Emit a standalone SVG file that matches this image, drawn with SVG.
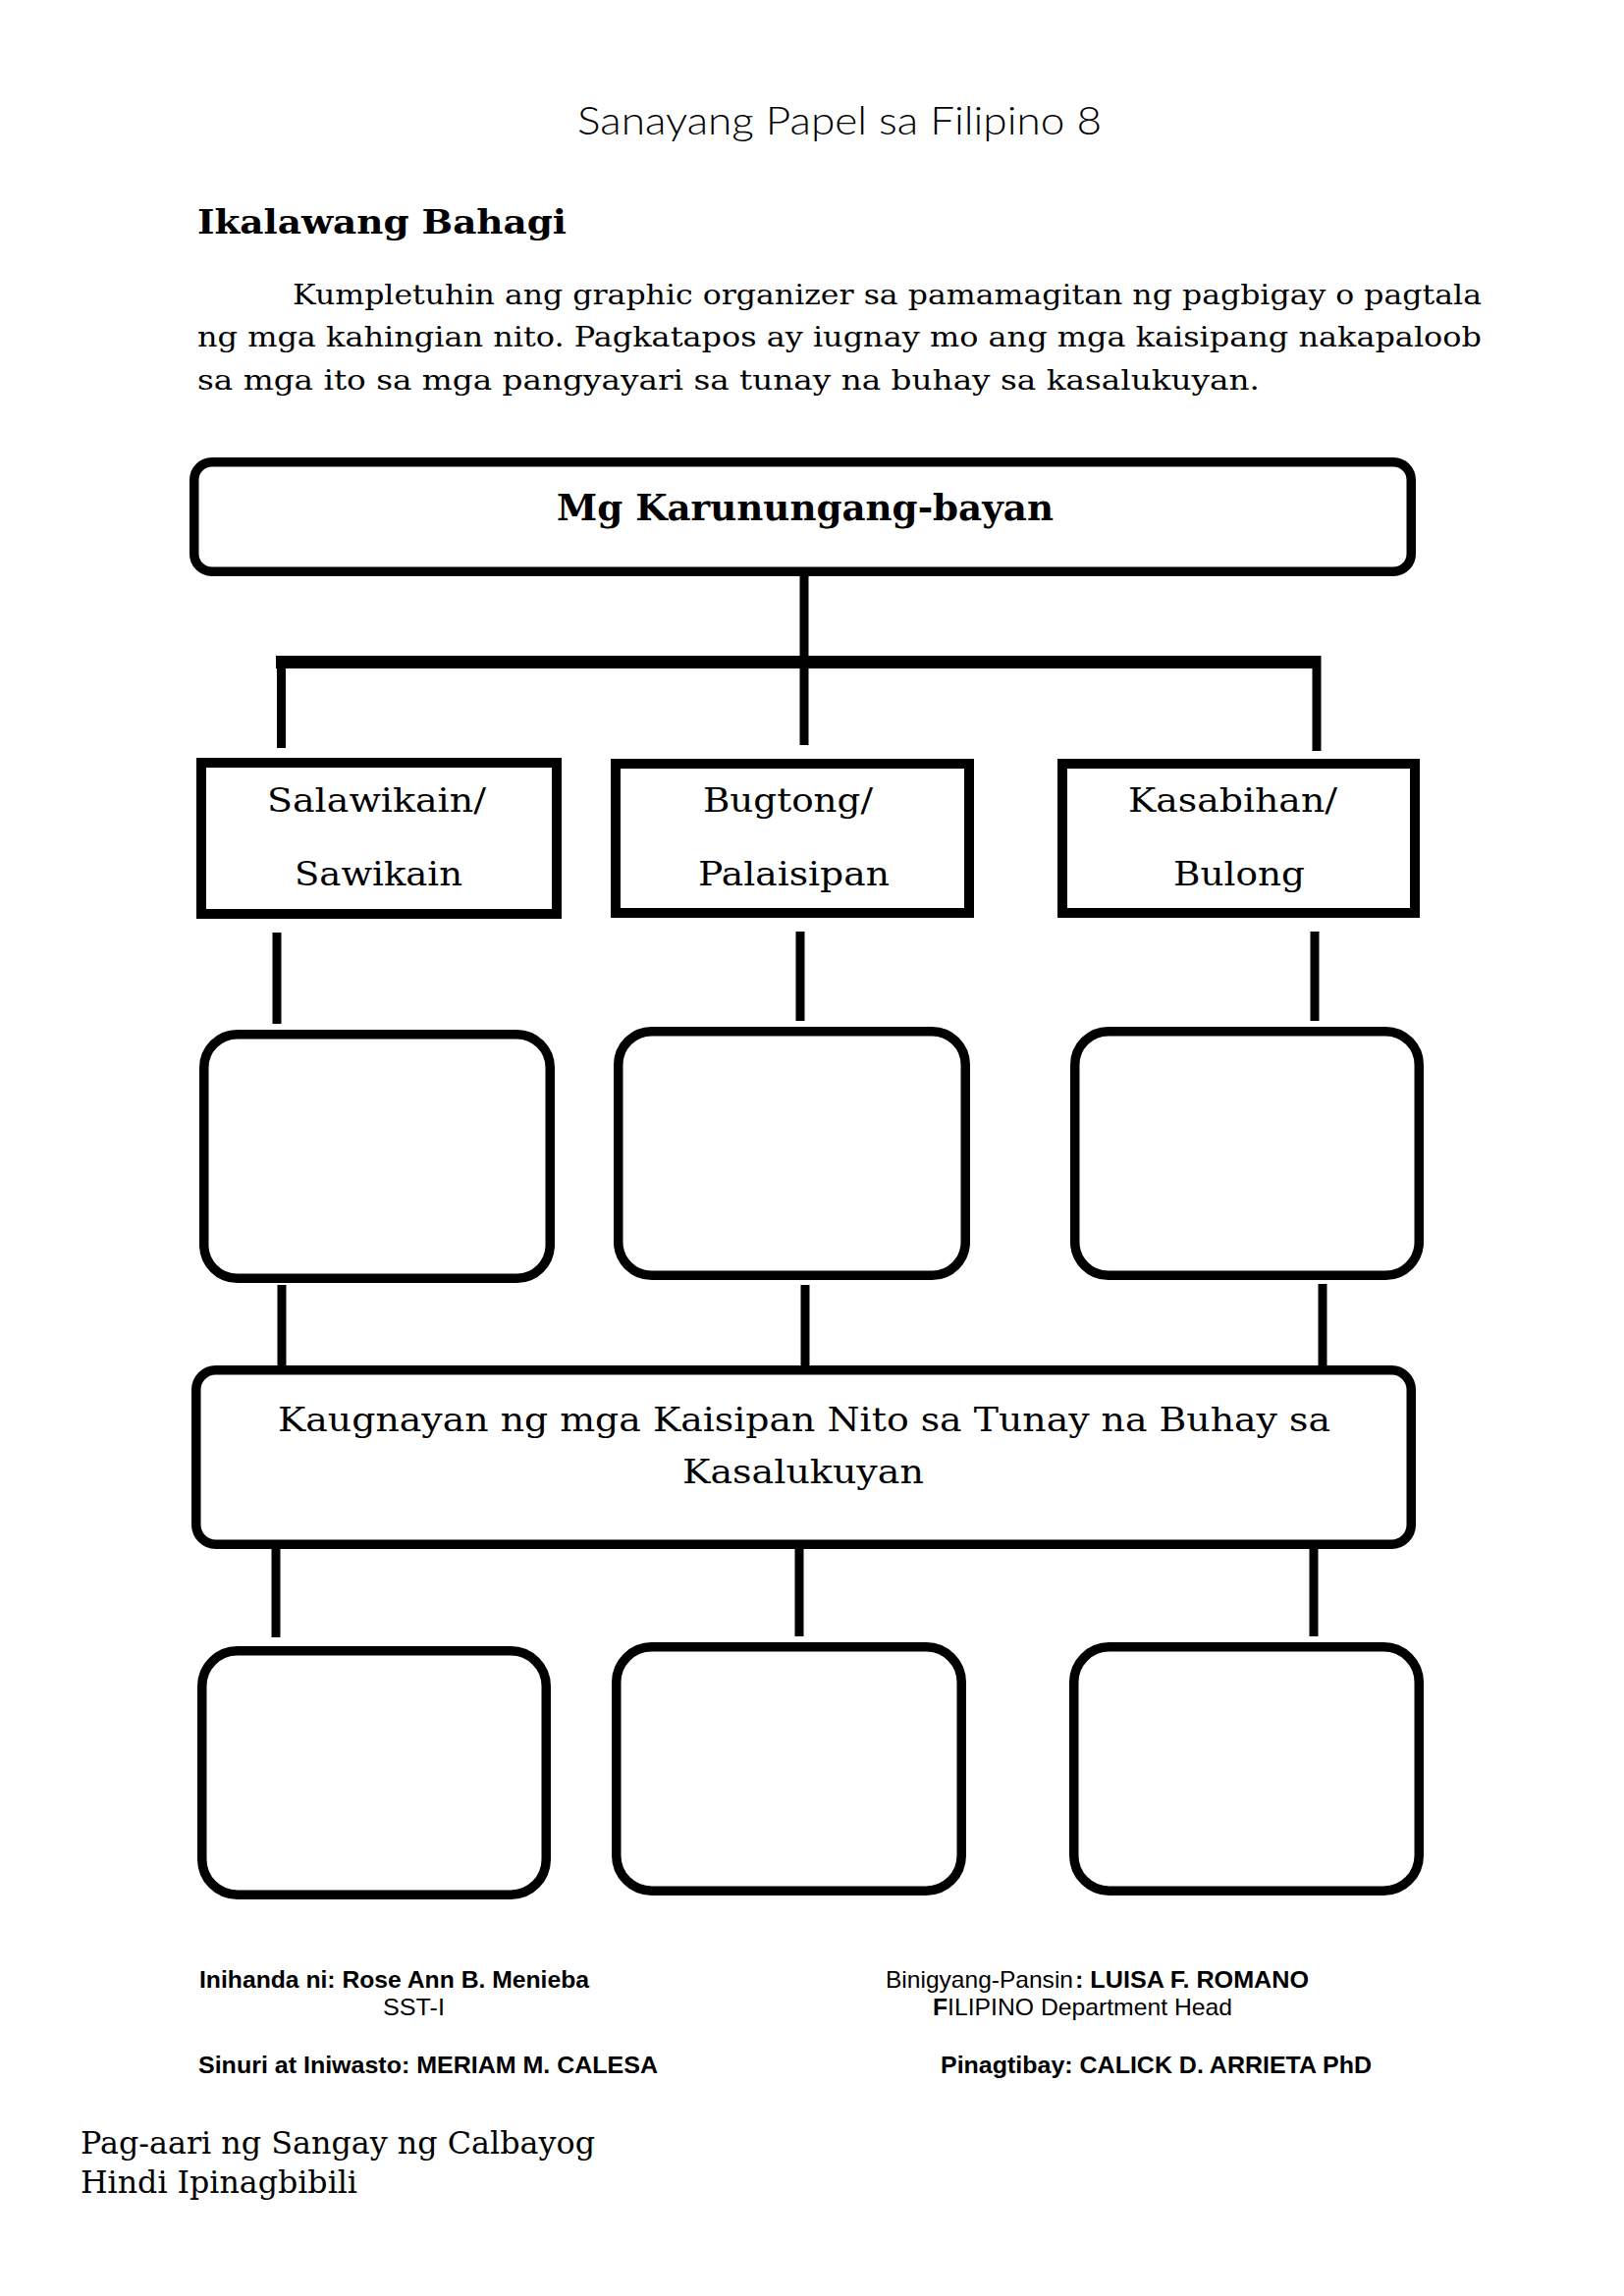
<svg xmlns="http://www.w3.org/2000/svg" width="1654" height="2339" viewBox="0 0 1654 2339">
  <style>
    .box { fill: #ffffff; stroke: #000000; stroke-width: 9.5; }
    .sq { fill: #ffffff; stroke: #000000; stroke-width: 10; }
    .conn { stroke: #000000; stroke-width: 9; fill: none; stroke-linecap: butt; }
    .bar { stroke: #000000; stroke-width: 13; fill: none; stroke-linecap: butt; }
    .serif { font-family: "DejaVu Serif", "Liberation Serif", serif; fill: #000000; }
    .sans { font-family: "Liberation Sans", Arial, sans-serif; fill: #000000; }
    .thin { font-family: "Lato", "DejaVu Sans", "Liberation Sans", sans-serif; font-weight: 300; fill: #000000; }
  </style>
  <rect x="0" y="0" width="1654" height="2339" fill="#ffffff"/>

  <g id="page-header">
    <text class="thin" x="588" y="137" font-size="39" textLength="534" lengthAdjust="spacingAndGlyphs">Sanayang Papel sa Filipino 8</text>
  </g>

  <g id="instructions">
    <text class="serif" x="201" y="238" font-size="34" font-weight="bold" textLength="376" lengthAdjust="spacingAndGlyphs">Ikalawang Bahagi</text>
    <text class="serif" x="298" y="310" font-size="28" textLength="1211" lengthAdjust="spacingAndGlyphs">Kumpletuhin ang graphic organizer sa pamamagitan ng pagbigay o pagtala</text>
    <text class="serif" x="201" y="353" font-size="28" textLength="1308" lengthAdjust="spacingAndGlyphs">ng mga kahingian nito. Pagkatapos ay iugnay mo ang mga kaisipang nakapaloob</text>
    <text class="serif" x="201" y="397" font-size="28" textLength="1082" lengthAdjust="spacingAndGlyphs">sa mga ito sa mga pangyayari sa tunay na buhay sa kasalukuyan.</text>
  </g>

  <g id="connectors">
    <line class="conn" x1="819" y1="587" x2="819" y2="759"/>
    <line class="bar" x1="281" y1="674.5" x2="1345" y2="674.5"/>
    <line class="conn" x1="286.5" y1="668" x2="286.5" y2="762"/>
    <line class="conn" x1="1341" y1="668" x2="1341" y2="765"/>
    <line class="conn" x1="282" y1="950" x2="282" y2="1043"/>
    <line class="conn" x1="815" y1="949" x2="815" y2="1040"/>
    <line class="conn" x1="1339" y1="949" x2="1339" y2="1040"/>
    <line class="conn" x1="287" y1="1309" x2="287" y2="1393"/>
    <line class="conn" x1="820" y1="1309" x2="820" y2="1393"/>
    <line class="conn" x1="1347" y1="1308" x2="1347" y2="1393"/>
    <line class="conn" x1="281" y1="1576" x2="281" y2="1668"/>
    <line class="conn" x1="814" y1="1576" x2="814" y2="1667"/>
    <line class="conn" x1="1338" y1="1576" x2="1338" y2="1667"/>
  </g>

  <g id="node-title">
    <rect class="box" x="197.75" y="470.75" width="1239.5" height="111.5" rx="18"/>
    <text class="serif" x="567" y="530" font-size="37" font-weight="bold" textLength="506" lengthAdjust="spacingAndGlyphs">Mg Karunungang-bayan</text>
  </g>

  <g id="node-salawikain">
    <rect class="sq" x="205" y="777" width="362" height="154"/>
    <text class="serif" x="272" y="827" font-size="34" textLength="223" lengthAdjust="spacingAndGlyphs">Salawikain/</text>
    <text class="serif" x="300" y="902" font-size="34" textLength="171" lengthAdjust="spacingAndGlyphs">Sawikain</text>
  </g>

  <g id="node-bugtong">
    <rect class="sq" x="627" y="778" width="360" height="152"/>
    <text class="serif" x="716" y="827" font-size="34" textLength="173" lengthAdjust="spacingAndGlyphs">Bugtong/</text>
    <text class="serif" x="711" y="902" font-size="34" textLength="195" lengthAdjust="spacingAndGlyphs">Palaisipan</text>
  </g>

  <g id="node-kasabihan">
    <rect class="sq" x="1082" y="778" width="359" height="152"/>
    <text class="serif" x="1149" y="827" font-size="34" textLength="213" lengthAdjust="spacingAndGlyphs">Kasabihan/</text>
    <text class="serif" x="1195" y="902" font-size="34" textLength="134" lengthAdjust="spacingAndGlyphs">Bulong</text>
  </g>

  <g id="node-answer-1">
    <rect class="box" x="207.75" y="1053.75" width="352.5" height="248.5" rx="34"/>
  </g>
  <g id="node-answer-2">
    <rect class="box" x="629.75" y="1050.75" width="353.5" height="248.5" rx="34"/>
  </g>
  <g id="node-answer-3">
    <rect class="box" x="1094.75" y="1050.75" width="350.5" height="248.5" rx="34"/>
  </g>

  <g id="node-kaugnayan">
    <rect class="box" x="199.75" y="1395.75" width="1237.5" height="177.5" rx="20"/>
    <text class="serif" x="283" y="1458" font-size="34" textLength="1072" lengthAdjust="spacingAndGlyphs">Kaugnayan ng mga Kaisipan Nito sa Tunay na Buhay sa</text>
    <text class="serif" x="695" y="1511" font-size="34" textLength="246" lengthAdjust="spacingAndGlyphs">Kasalukuyan</text>
  </g>

  <g id="node-relation-1">
    <rect class="box" x="205.75" y="1681.75" width="350.5" height="248.5" rx="36"/>
  </g>
  <g id="node-relation-2">
    <rect class="box" x="627.75" y="1677.75" width="351.5" height="248.5" rx="36"/>
  </g>
  <g id="node-relation-3">
    <rect class="box" x="1093.75" y="1677.75" width="351.5" height="248.5" rx="36"/>
  </g>

  <g id="credits">
    <text class="sans" x="203" y="2025" font-size="24" font-weight="bold" textLength="397" lengthAdjust="spacingAndGlyphs">Inihanda ni: Rose Ann B. Menieba</text>
    <text class="sans" x="390" y="2053" font-size="24" textLength="63" lengthAdjust="spacingAndGlyphs">SST-I</text>
    <text class="sans" x="202" y="2112" font-size="24" font-weight="bold" textLength="468" lengthAdjust="spacingAndGlyphs">Sinuri at Iniwasto: MERIAM M. CALESA</text>
    <text class="sans" x="902" y="2025" font-size="24" textLength="191" lengthAdjust="spacingAndGlyphs">Binigyang-Pansin</text>
    <text class="sans" x="1095" y="2025" font-size="24" font-weight="bold" textLength="238" lengthAdjust="spacingAndGlyphs">: LUISA F. ROMANO</text>
    <text class="sans" x="950" y="2053" font-size="24" textLength="305" lengthAdjust="spacingAndGlyphs"><tspan font-weight="bold">F</tspan>ILIPINO Department Head</text>
    <text class="sans" x="958" y="2112" font-size="24" font-weight="bold" textLength="439" lengthAdjust="spacingAndGlyphs">Pinagtibay: CALICK D. ARRIETA PhD</text>
  </g>

  <g id="page-footer">
    <text class="serif" x="82" y="2194" font-size="31" textLength="524" lengthAdjust="spacingAndGlyphs">Pag-aari ng Sangay ng Calbayog</text>
    <text class="serif" x="82" y="2234" font-size="31" textLength="282" lengthAdjust="spacingAndGlyphs">Hindi Ipinagbibili</text>
  </g>
</svg>
